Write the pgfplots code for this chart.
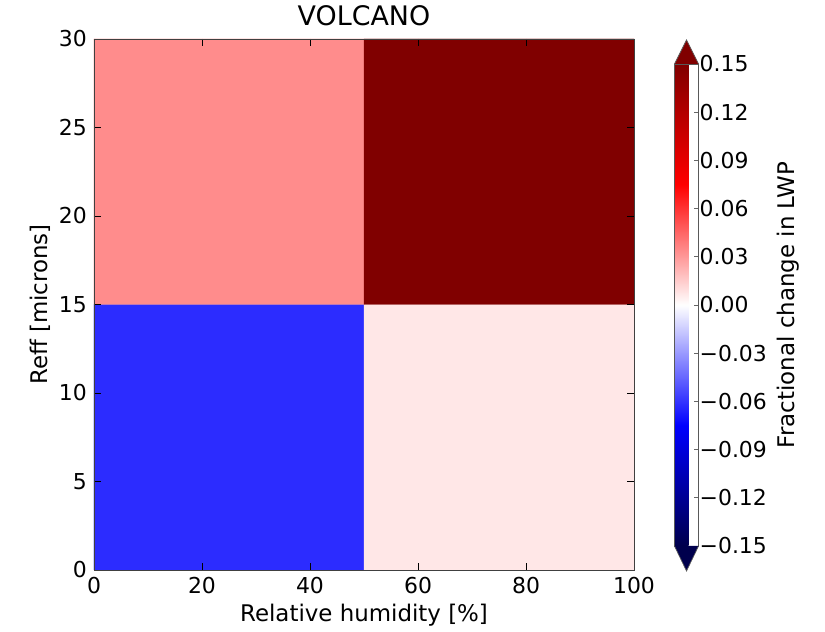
\documentclass[border=0pt]{standalone}
\usepackage{pgfplots}
\pgfplotsset{compat=1.18}
\usetikzlibrary{calc}
\usepackage{fontspec}
\setmainfont{DejaVu Sans}
\begin{document}
\begin{tikzpicture}[x=1bp,y=1bp]
\useasboundingbox (-94,-62) rectangle (731,570);
\begin{axis}[
  name=main,
  at={(0,0)}, anchor=south west,
  scale only axis,
  width=540bp, height=531bp,
  axis on top,
  xmin=0, xmax=100, ymin=0, ymax=30,
  xtick={0,20,40,60,80,100},
  xticklabels={0,20,40,60,80,100},
  ytick={0,5,10,15,20,25,30},
  yticklabels={0,5,10,15,20,25,30},
  tick label style={font=\fontsize{22}{26}\selectfont},
  xticklabel style={inner sep=0pt, yshift=-7bp},
  yticklabel style={inner sep=0pt, xshift=-7bp},
  tick align=inside,
  major tick length=7bp,
  tick style={black, line width=0.7pt},
  axis line style={black!75, line width=0.9pt},
  title={VOLCANO},
  title style={font=\fontsize{27}{32}\selectfont, at={(axis description cs:0.5,1)}, anchor=base, yshift=8bp},
  xlabel={Relative humidity [\%]},
  ylabel={Reff [microns]},
  label style={font=\fontsize{23}{28}\selectfont},
  xlabel style={at={(axis description cs:0.5,0)}, anchor=base, yshift=-51bp},
  ylabel style={at={(axis description cs:-0.1,0.5)}, anchor=center},
  colormap={seismic}{rgb255=(0,0,77) rgb255=(0,0,255) rgb255=(255,255,255) rgb255=(255,0,0) rgb255=(128,0,0)},
  point meta min=-0.15, point meta max=0.15,
  colorbar,
  colorbar style={
    name=cb,
    at={(parent axis.east)}, anchor=west, xshift=32bp, yshift=-0.5bp,
    width=24bp, height=482bp,
    scale only axis,
    ytick={-0.15,-0.12,-0.09,-0.06,-0.03,0,0.03,0.06,0.09,0.12,0.15},
    yticklabels={−0.15,−0.12,−0.09,−0.06,−0.03,0.00,0.03,0.06,0.09,0.12,0.15},
    ytick pos=right,
    yticklabel pos=right,
    tick label style={font=\fontsize{22}{26}\selectfont},
    yticklabel style={inner sep=0pt, xshift=1bp},
    tick align=inside,
    major tick length=5bp,
    tick style={black!60, line width=0.6pt},
    axis line style={black!65, line width=0.7pt},
    ylabel={Fractional change in LWP},
    ylabel style={font=\fontsize{23}{28}\selectfont, at={(axis description cs:4.75,0.5)}, anchor=center},
  },
]
\addplot[matrix plot*, mesh/cols=2, point meta=explicit, shader=flat corner] table[meta=c] {
x y c
25 7.5 -0.062
75 7.5 0.007
25 22.5 0.034
75 22.5 0.15
};
\end{axis}
\filldraw[fill={rgb,255:red,128;green,0;blue,0}, draw=black!65, line width=0.7pt]
  (cb.north west) -- ($(cb.north)+(0,24bp)$) -- (cb.north east);
\filldraw[fill={rgb,255:red,0;green,0;blue,77}, draw=black!65, line width=0.7pt]
  (cb.south west) -- ($(cb.south)+(0,-25bp)$) -- (cb.south east);
\end{tikzpicture}
\end{document}
